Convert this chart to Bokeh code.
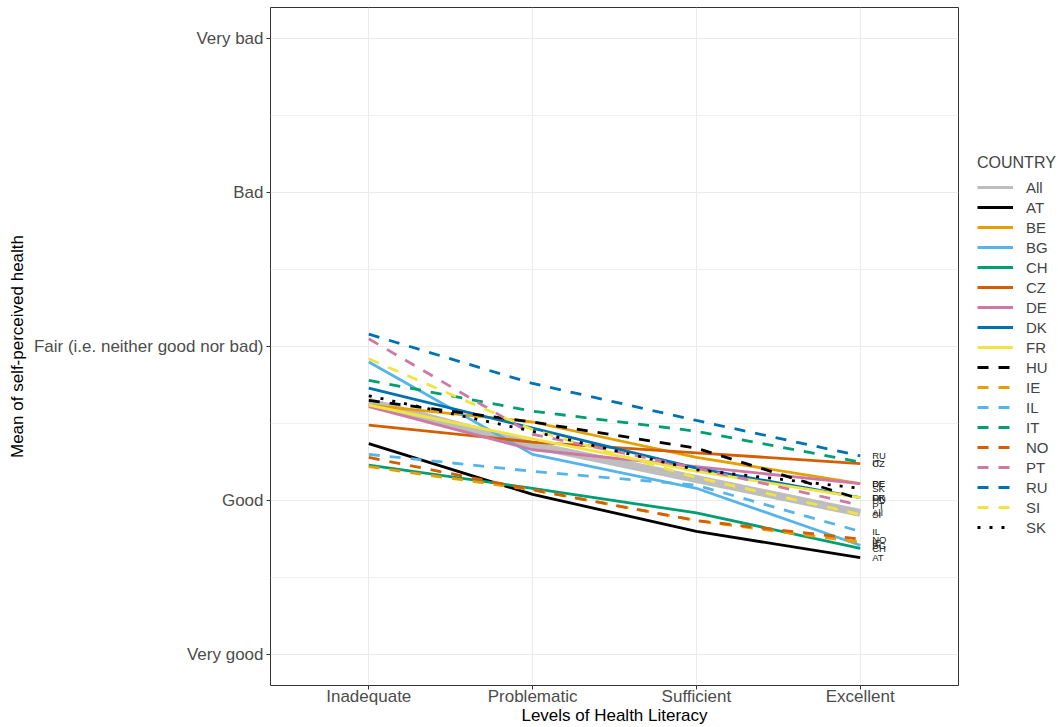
from bokeh.plotting import figure
from bokeh.layouts import row
from bokeh.models import (FactorRange, Range1d, FixedTicker, Legend, LegendItem,
                          ColumnDataSource)
from bokeh.embed import file_html
from bokeh.resources import INLINE

levels = ["Inadequate", "Problematic", "Sufficient", "Excellent"]
health_labels = {1: "Very good", 2: "Good", 3: "Fair (i.e. neither good nor bad)",
                 4: "Bad", 5: "Very bad"}

countries = ["All", "AT", "BE", "BG", "CH", "CZ", "DE", "DK", "FR",
             "HU", "IE", "IL", "IT", "NO", "PT", "RU", "SI", "SK"]

All = [2.64, 2.36, 2.14, 1.92]
AT = [2.37, 2.04, 1.80, 1.63]
BE = [2.62, 2.51, 2.28, 2.11]
BG = [2.90, 2.30, 2.08, 1.71]
CH = [2.23, 2.08, 1.92, 1.69]
CZ = [2.49, 2.38, 2.31, 2.24]
DE = [2.61, 2.33, 2.22, 2.11]
DK = [2.73, 2.47, 2.21, 2.02]
FR = [2.62, 2.40, 2.19, 2.02]
HU = [2.65, 2.51, 2.34, 2.01]
IE = [2.22, 2.07, 1.87, 1.73]
IL = [2.30, 2.19, 2.10, 1.80]
IT = [2.78, 2.58, 2.45, 2.25]
NO = [2.28, 2.07, 1.87, 1.75]
PT = [3.05, 2.43, 2.21, 1.97]
RU = [3.08, 2.76, 2.52, 2.29]
SI = [2.92, 2.46, 2.15, 1.91]
SK = [2.68, 2.45, 2.20, 2.08]

series = {"All": All, "AT": AT, "BE": BE, "BG": BG, "CH": CH, "CZ": CZ, "DE": DE,
          "DK": DK, "FR": FR, "HU": HU, "IE": IE, "IL": IL, "IT": IT, "NO": NO,
          "PT": PT, "RU": RU, "SI": SI, "SK": SK}

colors = {"All": "#BEBEBE", "AT": "#000000", "BE": "#E69F00", "BG": "#56B4E9",
          "CH": "#009E73", "CZ": "#D55E00", "DE": "#CC79A7", "DK": "#0072B2",
          "FR": "#F0E442", "HU": "#000000", "IE": "#E69F00", "IL": "#56B4E9",
          "IT": "#009E73", "NO": "#D55E00", "PT": "#CC79A7", "RU": "#0072B2",
          "SI": "#F0E442", "SK": "#000000"}
dashes = {c: "solid" for c in countries}
for c in ["HU", "IE", "IL", "IT", "NO", "PT", "RU", "SI"]:
    dashes[c] = "11 10"
dashes["SK"] = "3 9"

FONT = "Liberation Sans"

p = figure(x_range=FactorRange(factors=levels, range_padding=0.1,
                               range_padding_units="absolute"),
           y_range=Range1d(0.8, 5.2),
           width=960, height=727,
           min_border_top=7, min_border_right=2, min_border_bottom=0,
           min_border_left=270,
           output_backend="svg", toolbar_location=None,
           background_fill_color="white", border_fill_color="white")

p.outline_line_color = "#333333"
p.outline_line_width = 1

p.yaxis.ticker = FixedTicker(ticks=[1, 2, 3, 4, 5], minor_ticks=[1.5, 2.5, 3.5, 4.5])
p.yaxis.major_label_overrides = health_labels

for ax in (p.xaxis[0], p.yaxis[0]):
    ax.axis_line_color = None
    ax.major_tick_line_color = "#333333"
    ax.major_tick_out = 4
    ax.major_tick_in = 0
    ax.minor_tick_line_color = None
    ax.major_label_text_color = "#4D4D4D"
    ax.major_label_text_font = FONT
    ax.major_label_text_font_size = "17px"
    ax.axis_label_text_font = FONT
    ax.axis_label_text_font_size = "17px"
    ax.axis_label_text_font_style = "normal"
    ax.axis_label_text_color = "black"

p.xaxis.axis_label = "Levels of Health Literacy"
p.yaxis.axis_label = "Mean of self-perceived health"
p.xaxis.major_label_standoff = -3
p.xaxis.axis_label_standoff = -3
p.yaxis.major_label_standoff = 3
p.yaxis.axis_label_standoff = 4

p.xgrid.grid_line_color = "#EBEBEB"
p.xgrid.grid_line_width = 1
p.ygrid.grid_line_color = "#EBEBEB"
p.ygrid.grid_line_width = 1
p.ygrid.minor_grid_line_color = "#F0F0F0"
p.ygrid.minor_grid_line_width = 1

for c in countries:
    if c == "All":
        p.line(levels, series[c], line_color=colors[c], line_width=8)
    else:
        p.line(levels, series[c], line_color=colors[c], line_width=2.8,
               line_dash=dashes[c])

# end labels at the last level
last = levels[-1]
lab_src = ColumnDataSource(dict(x=[last] * len(countries),
                                y=[series[c][-1] for c in countries],
                                t=countries))
p.text(x="x", y="y", text="t", source=lab_src, x_offset=12,
       text_align="left", text_baseline="middle", text_font_size="9.5px",
       text_color="#1a1a1a", text_font={"value": FONT})

# legend panel (separate figure with proxy glyphs of identical style)
pl = figure(width=98, height=727, x_range=Range1d(0, 1), y_range=Range1d(0, 1),
            min_border=0, x_axis_location=None, y_axis_location=None,
            output_backend="svg", toolbar_location=None,
            background_fill_color="white", border_fill_color="white")
pl.outline_line_color = None
pl.grid.visible = False

items = []
for c in countries:
    w = 3 if c == "All" else 2.8
    proxy = pl.line(x=[0.5], y=[float("nan")], line_color=colors[c],
                    line_width=w, line_dash=dashes[c])
    items.append(LegendItem(label=c, renderers=[proxy]))

legend = Legend(items=items, title="COUNTRY", location=(17, 148))
legend.title_text_font = FONT
legend.title_text_font_size = "16px"
legend.title_text_font_style = "normal"
legend.title_standoff = 5
legend.label_text_font = FONT
legend.label_text_font_size = "15px"
legend.glyph_width = 36
legend.glyph_height = 20
legend.label_height = 20
legend.label_standoff = 13
legend.spacing = 0
legend.padding = 5
legend.margin = 0
legend.border_line_color = None
legend.background_fill_alpha = 0
pl.add_layout(legend, "center")

layout = row(p, pl)
open("out.html", "w").write(file_html(layout, INLINE))
